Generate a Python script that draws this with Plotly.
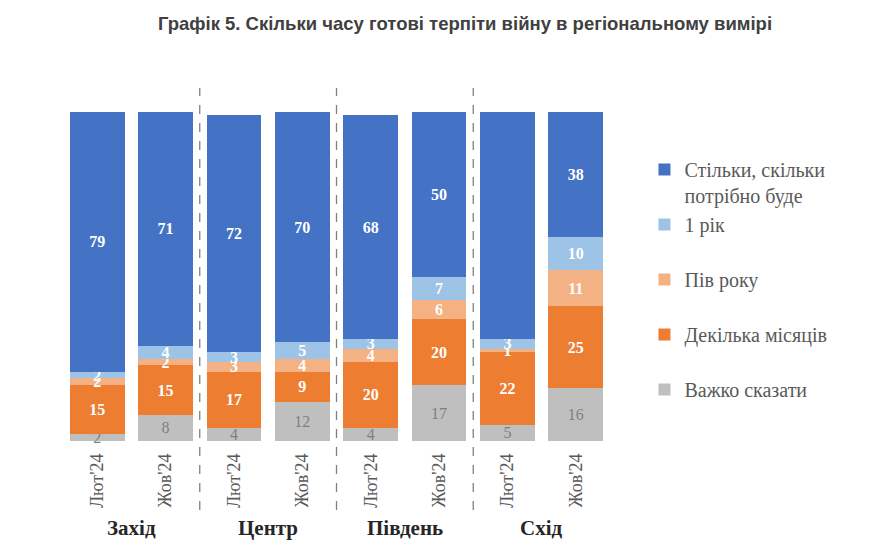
import plotly.graph_objects as go

regions = ["Захід", "Центр", "Південь", "Схід"]
periods = ["Лют'24", "Жов'24"]
tick_labels = [p for r in regions for p in periods]

series_names = ["Важко сказати", "Декілька місяців", "Пів року", "1 рік", "Стільки, скільки<br>потрібно буде"]
hard_to_say = [2, 8, 4, 12, 4, 17, 5, 16]
few_months = [15, 15, 17, 9, 20, 20, 22, 25]
half_year = [2, 2, 3, 4, 4, 6, 1, 11]
one_year = [2, 4, 3, 5, 3, 7, 3, 10]
as_long = [79, 71, 72, 70, 68, 50, 70, 38]

colors = ["#BFBFBF", "#ED7D31", "#F4B183", "#9DC3E6", "#4472C4"]
values = [hard_to_say, few_months, half_year, one_year, as_long]

serif = "Liberation Serif"
x = list(range(len(tick_labels)))

# page body has an 8px offset; compensate
OFF = 8

fig = go.Figure()
for i, (name, vals, col) in enumerate(zip(series_names, values, colors)):
    is_gray = i == 0
    fig.add_trace(go.Bar(
        x=x, y=vals, name=name, marker=dict(color=col, line=dict(width=0)),
        text=[str(v) for v in vals], textposition="inside", insidetextanchor="middle",
        textangle=0,
        textfont=dict(family=serif, size=16, color="#7F7F7F" if is_gray else "white",
                      weight="normal" if is_gray else "bold"),
        constraintext="none",
        legend="legend2" if i == 4 else "legend",
        legendgroup="g%d" % i,
        legendrank=10 - i,
        cliponaxis=False,
    ))

plot_top = 112 - OFF
plot_h = 329
def py(px):
    # pixel y (reference) -> paper coordinate
    return (plot_top + plot_h - (px - OFF)) / plot_h

shapes = []
for b in [1.5, 3.5, 5.5]:
    shapes.append(dict(type="line", xref="x", yref="paper", x0=b, x1=b, y0=py(510), y1=py(88),
                       line=dict(color="#808080", width=1.3, dash="dash")))

annotations = []
for gi, r in enumerate(regions):
    annotations.append(dict(text="<b>" + r + "</b>", x=gi * 2 + 0.5, xref="x", y=py(528), yref="paper",
                            showarrow=False, font=dict(family=serif, size=21, color="#262626"),
                            xanchor="center", yanchor="middle"))

legend_font = dict(family=serif, size=20, color="#595959")
fig.update_layout(
    width=889, height=557,
    barmode="stack", bargap=0.2,
    paper_bgcolor="white", plot_bgcolor="white",
    margin=dict(l=63 - OFF, r=279 + OFF, t=plot_top, b=557 - plot_top - plot_h),
    title=dict(text="<b>Графік 5. Скільки часу готові терпіти війну в регіональному вимірі</b>",
               x=(465 - OFF) / 889, xref="container", xanchor="center",
               y=1 - (24 - OFF) / 557, yref="container", yanchor="middle",
               font=dict(family="Liberation Sans", size=18.5, color="#404040")),
    xaxis=dict(tickvals=x, ticktext=tick_labels, tickangle=-90, range=[-0.5, 7.5],
               showline=False, showgrid=False, zeroline=False, ticks="",
               ticklabelstandoff=8,
               tickfont=dict(family=serif, size=18, color="#595959")),
    yaxis=dict(range=[0, 100], visible=False),
    legend=dict(x=1.063, xanchor="left", y=py(205), yanchor="top",
                tracegroupgap=26, traceorder="grouped", valign="top",
                font=legend_font, itemwidth=30),
    legend2=dict(x=1.063, xanchor="left", y=py(150), yanchor="top", valign="top",
                 font=legend_font, itemwidth=30),
    shapes=shapes, annotations=annotations,
    showlegend=True,
)

fig.write_html("out.html")
